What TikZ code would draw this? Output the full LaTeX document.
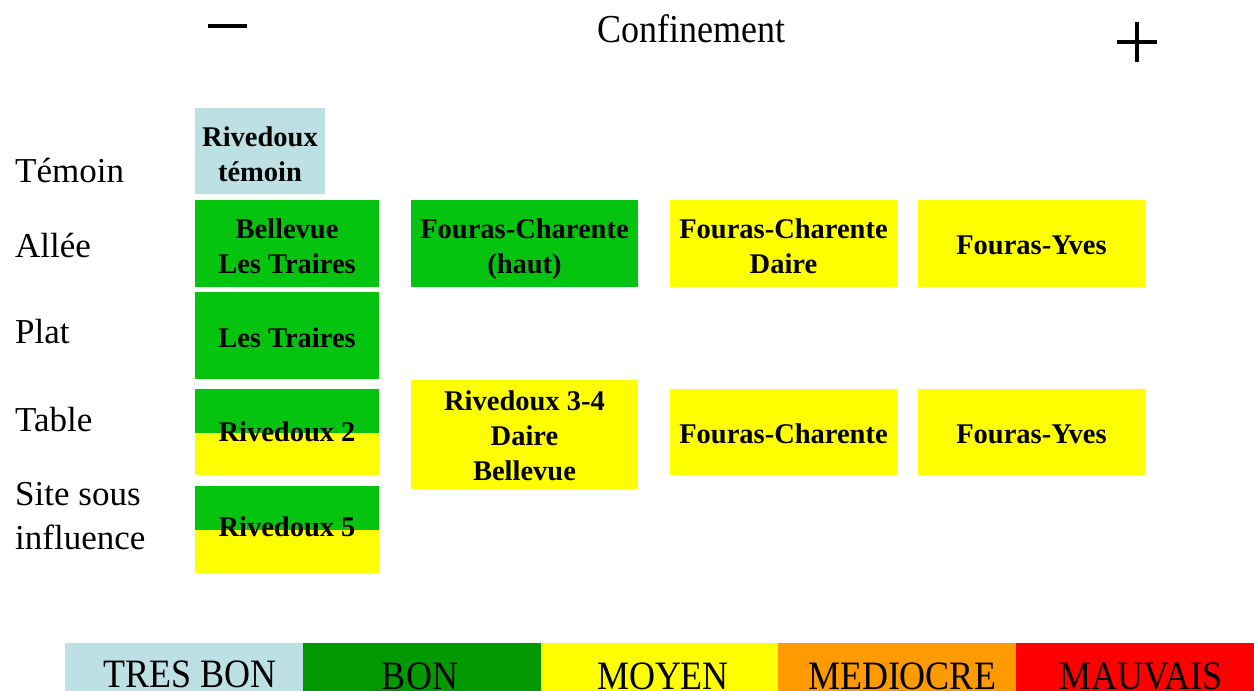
\documentclass[tikz,border=0pt]{standalone}
\usepackage{fontspec}
\setmainfont{Liberation Serif}
\definecolor{cblue}{HTML}{BCE0E4}
\definecolor{cgreen}{HTML}{04C40F}
\definecolor{cyellow}{HTML}{FFFF00}
\definecolor{lgreen}{HTML}{009A00}
\definecolor{lorange}{HTML}{FF9A00}
\definecolor{lred}{HTML}{FF0000}
\newcommand\bst{\rule[-10.5pt]{0pt}{35pt}}
\begin{document}
\begin{tikzpicture}[x=1pt,y=-1pt,
  box/.style={inner sep=0pt, minimum width=#1, align=center,
    font=\fontsize{28.5}{35}\selectfont\bfseries},
  rowlab/.style={anchor=base west, inner sep=0pt, font=\fontsize{35}{42}\selectfont},
  legtxt/.style={anchor=base, inner sep=0pt, font=\fontsize{36}{42}\selectfont},
  sign/.style={line width=3.5pt}]
\useasboundingbox (0,0) rectangle (1254,691);

% top
\coordinate (m1) at (208,26);
\coordinate (m2) at (247,26);
\draw[sign] (m1) -- (m2);
\coordinate (p1) at (1117,42);
\coordinate (p2) at (1157,42);
\coordinate (p3) at (1137,22);
\coordinate (p4) at (1137,62);
\draw[sign] (p1) -- (p2);
\draw[sign] (p3) -- (p4);
\node[anchor=base, inner sep=0pt, font=\fontsize{36}{42}\selectfont] (conf) at (691,42) {\scalebox{1}[1.1]{Confinement}};

% row labels
\node[rowlab] (lt) at (15,182) {Témoin};
\node[rowlab] (la) at (15,257) {Allée};
\node[rowlab] (lp) at (15,343) {Plat};
\node[rowlab] (lta) at (15,431) {Table};
\node[rowlab] (ls1) at (15,505) {Site sous};
\node[rowlab] (ls2) at (15,549) {influence};

% column 1
\fill[cblue] (195,108) rectangle (325,194);
\node[box=130pt] (rt) at (260,156.5) {\bst Rivedoux\\\bst témoin};
\fill[cgreen] (195,200) rectangle (379,287);
\node[box=184pt] (bl) at (287,249) {\bst Bellevue\\\bst Les Traires};
\fill[cgreen] (195,292) rectangle (379,379);
\node[box=184pt] (ltr) at (287,340) {\bst Les Traires};
\fill[cgreen] (195,389) rectangle (379,433);
\fill[cyellow] (195,433) rectangle (379,475);
\node[box=184pt] (r2) at (287,434.5) {\bst Rivedoux 2};
\fill[cgreen] (195,486) rectangle (379,530);
\fill[cyellow] (195,530) rectangle (379,573);
\node[box=184pt] (r5) at (287,529.5) {\bst Rivedoux 5};

% column 2
\fill[cgreen] (411,200) rectangle (638,287);
\node[box=227pt] (fch) at (524.5,249) {\bst Fouras-Charente\\\bst (haut)};
\fill[cyellow] (411,380) rectangle (638,489);
\node[box=227pt] (r34) at (524.5,438.5) {\bst Rivedoux 3-4\\\bst Daire\\\bst Bellevue};

% column 3
\fill[cyellow] (670,200) rectangle (897,287);
\node[box=227pt] (fcd) at (783.5,249) {\bst Fouras-Charente\\\bst Daire};
\fill[cyellow] (670,389) rectangle (897,475);
\node[box=227pt] (fc) at (783.5,436) {\bst Fouras-Charente};

% column 4
\fill[cyellow] (918,200) rectangle (1145,287);
\node[box=227pt] (fy1) at (1031.5,247.5) {\bst Fouras-Yves};
\fill[cyellow] (918,389) rectangle (1145,475);
\node[box=227pt] (fy2) at (1031.5,436) {\bst Fouras-Yves};

% legend
\fill[cblue] (65,643) rectangle (303,691);
\fill[lgreen] (303,643) rectangle (541,691);
\fill[cyellow] (541,643) rectangle (778,691);
\fill[lorange] (778,643) rectangle (1016,691);
\fill[lred] (1016,643) rectangle (1254,691);
\node[legtxt] (g1) at (190,687) {\scalebox{1}[1.12]{TRES BON}};
\node[legtxt] (g2) at (420,689) {\scalebox{1}[1.12]{BON}};
\node[legtxt] (g3) at (663,689) {\scalebox{1}[1.12]{MOYEN}};
\node[legtxt] (g4) at (902,689) {\scalebox{1}[1.12]{MEDIOCRE}};
\node[legtxt] (g5) at (1141,689) {\scalebox{1}[1.12]{MAUVAIS}};
\end{tikzpicture}
\end{document}
